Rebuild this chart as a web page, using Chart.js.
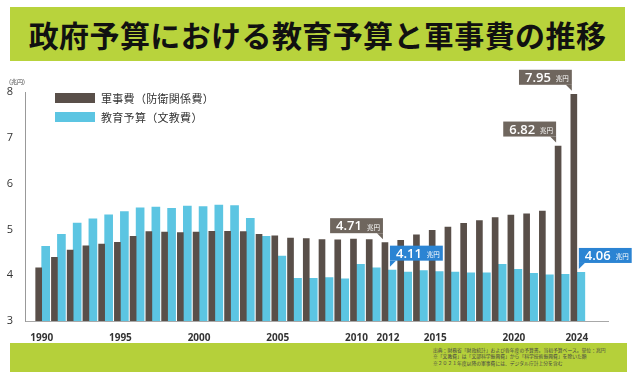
<!DOCTYPE html>
<html lang="ja">
<head>
<meta charset="utf-8">
<script src="https://cdn.jsdelivr.net/npm/chart.js@4.4.1/dist/chart.umd.min.js"></script>
<style>
  body { margin: 0; width: 635px; height: 374px; background: #fff; position: relative; overflow: hidden; font-family: "Noto Sans CJK JP", sans-serif; }
  #banner { position: absolute; left: 10px; top: 7px; width: 615px; height: 54px; background: #b8d33c; display: flex; align-items: center; justify-content: center; font-size: 30px; font-weight: 700; color: #111; letter-spacing: 0.4px; }
  #chartBox { position: absolute; left: 0; top: 62px; width: 635px; height: 280px; }
  #unit { position: absolute; left: 9px; top: 77px; font-size: 6px; color: #444; }
  #legend { position: absolute; left: 55px; top: 88px; font-size: 11px; color: #333; letter-spacing: 0.3px; }
  .row { display: flex; align-items: center; height: 19px; }
  .sw { width: 40px; height: 10px; margin-right: 6px; }
  #footer { position: absolute; left: 10px; top: 343px; width: 617px; height: 29px; background: #b5d03a; }
  #footer .txt { position: absolute; left: 423px; top: 4px; font-size: 6px; line-height: 8px; color: #444; white-space: nowrap; transform: scale(0.8); transform-origin: left top; }
</style>
</head>
<body>
<div id="banner">政府予算における教育予算と軍事費の推移</div>
<div id="chartBox"><canvas id="budgetChart"></canvas></div>
<div id="unit">(兆円)</div>
<div id="legend">
  <div class="row"><div class="sw" style="background:#594f49"></div>軍事費（防衛関係費）</div>
  <div class="row"><div class="sw" style="background:#5cc5e2"></div>教育予算（文教費）</div>
</div>
<div id="footer">
  <div class="txt">出典：財務省「財政統計」および各年度の予算書。当初予算ベース。単位：兆円<br>※「文教費」は「文部科学振興費」から「科学技術振興費」を除いた額<br>※２０２１年度以降の軍事費には、デジタル庁計上分を含む</div>
</div>
<script>
const years = [1990, 1991, 1992, 1993, 1994, 1995, 1996, 1997, 1998, 1999,
    2000, 2001, 2002, 2003, 2004, 2005, 2006, 2007, 2008, 2009,
    2010, 2011, 2012, 2013, 2014, 2015, 2016, 2017, 2018, 2019,
    2020, 2021, 2022, 2023, 2024];

const defense = [4.16, 4.39, 4.55, 4.64, 4.68, 4.72, 4.85, 4.95, 4.94, 4.93,
    4.94, 4.96, 4.96, 4.95, 4.89, 4.86, 4.81, 4.80, 4.78, 4.77,
    4.79, 4.78, 4.71, 4.76, 4.88, 4.98, 5.05, 5.13, 5.19, 5.26,
    5.31, 5.34, 5.40, 6.82, 7.95];

const education = [4.63, 4.89, 5.14, 5.23, 5.32, 5.39, 5.47, 5.49, 5.46, 5.51,
    5.50, 5.53, 5.52, 5.24, 4.85, 4.42, 3.93, 3.93, 3.95, 3.92,
    4.24, 4.16, 4.11, 4.07, 4.10, 4.08, 4.07, 4.05, 4.05, 4.24,
    4.13, 4.04, 4.01, 4.02, 4.06];

const tickYears = [1990, 1995, 2000, 2005, 2010, 2012, 2015, 2020, 2024];

const calloutSeries = [0, 0, 0, 1, 1];
const calloutYears = [2012, 2023, 2024, 2012, 2024];
const calloutTexts = ['4.71', '6.82', '7.95', '4.11', '4.06'];

const darkColor = '#594f49';
const lightColor = '#5cc5e2';
const boxColors = ['#6f665e', '#2b84d3'];

Chart.defaults.font.family = '"Open Sans", sans-serif';

const calloutPlugin = {
    id: 'callouts',
    afterDatasetsDraw(chart) {
        const ctx = chart.ctx;
        calloutTexts.forEach((text, k) => {
            const s = calloutSeries[k];
            const bar = chart.getDatasetMeta(s).data[years.indexOf(calloutYears[k])];
            const left = bar.x - bar.width / 2;

            ctx.save();
            ctx.font = '600 13px "Open Sans"';
            const numW = ctx.measureText(text).width;
            ctx.font = '6.5px "Noto Sans CJK JP"';
            const unitW = ctx.measureText('兆円').width;

            const w = numW + unitW + 14;
            const h = 15;
            const by = bar.y - 9.5 - h;
            const bx = s === 0 ? left + 1 - w : left + 2;

            ctx.fillStyle = boxColors[s];
            ctx.fillRect(bx, by, w, h);
            ctx.beginPath();
            if (s === 0) {
                ctx.moveTo(bx + w - 6, by + h);
                ctx.lineTo(bx + w, by + h);
                ctx.lineTo(bx + w, by + h + 6);
            } else {
                ctx.moveTo(bx, by + h);
                ctx.lineTo(bx + 6, by + h);
                ctx.lineTo(bx, by + h + 6);
            }
            ctx.closePath();
            ctx.fill();

            ctx.fillStyle = '#fff';
            ctx.textBaseline = 'alphabetic';
            ctx.font = '600 13px "Open Sans"';
            ctx.fillText(text, bx + 6, by + 12);
            ctx.font = '6.5px "Noto Sans CJK JP"';
            ctx.fillText('兆円', bx + 6 + numW + 5, by + 11.5);
            ctx.restore();
        });
    }
};

const ctx = document.getElementById('budgetChart');

new Chart(ctx, {
    type: 'bar',
    data: {
        datasets: [
            {
                label: '軍事費（防衛関係費）',
                data: years.map((y, i) => ({ x: y, y: defense[i] })),
                backgroundColor: darkColor,
                barThickness: 6
            },
            {
                label: '教育予算（文教費）',
                data: years.map((y, i) => ({ x: y, y: education[i] })),
                backgroundColor: lightColor,
                barThickness: 8
            }
        ]
    },
    options: {
        responsive: true,
        maintainAspectRatio: false,
        animation: false,
        layout: {
            padding: { top: 30, right: 27, left: 0, bottom: 0 }
        },
        plugins: {
            legend: { display: false },
            tooltip: { enabled: false }
        },
        scales: {
            x: {
                type: 'linear',
                offset: false,
                min: 1988.94,
                max: 2025.98,
                grid: { display: false },
                border: { color: '#a8a8a8' },
                afterBuildTicks: scale => {
                    scale.ticks = tickYears.map(v => ({ value: v }));
                },
                afterFit: scale => {
                    scale.height = 21;
                },
                ticks: {
                    autoSkip: false,
                    maxRotation: 0,
                    padding: 3,
                    color: '#333',
                    font: { size: 10, weight: 'bold' },
                    callback: value => String(value)
                }
            },
            y: {
                min: 3,
                max: 8,
                afterFit: scale => {
                    scale.width = 25;
                },
                grid: { display: false },
                border: { color: '#999' },
                ticks: {
                    stepSize: 1,
                    padding: 4,
                    color: '#333',
                    font: { size: 11 }
                }
            }
        }
    },
    plugins: [calloutPlugin]
});
</script>
</body>
</html>
